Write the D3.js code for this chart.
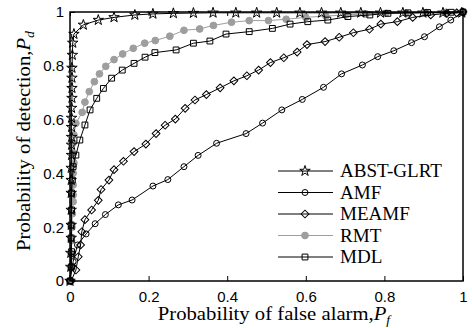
<!DOCTYPE html>
<html>
<head>
<meta charset="utf-8">
<script src="https://cdn.jsdelivr.net/npm/d3@7"></script>
</head>
<body style="margin:0; background:#fff">
<div id="chart"></div>
<script>
// ROC curves
const names = ["ABST-GLRT", "AMF", "MEAMF", "RMT", "MDL"];

const abstPf = [0, 0.002, 0.002, 0.003, 0.003, 0.003, 0.003, 0.003, 0.003, 0.004, 0.004, 0.004, 0.004, 0.004, 0.004, 0.005, 0.005, 0.005, 0.005, 0.006, 0.007,
  0.01, 0.034, 0.072, 0.112, 0.165, 0.211, 0.263, 0.314, 0.364, 0.422, 0.475, 0.526, 0.585, 0.64, 0.689, 0.74, 0.79, 0.847, 0.898, 0.949, 0.997];
const abstPd = [0, 0.052, 0.104, 0.16, 0.208, 0.264, 0.327, 0.375, 0.42, 0.468, 0.506, 0.535, 0.572, 0.606, 0.643, 0.68, 0.717, 0.755, 0.792, 0.84, 0.885,
  0.918, 0.952, 0.97, 0.98, 0.989, 0.993, 0.995, 0.996, 0.997, 0.997, 0.997, 0.997, 0.997, 0.997, 0.997, 0.997, 0.997, 0.997, 0.997, 0.997, 0.997];

const amfPf = [0, 0.008, 0.019, 0.041, 0.064, 0.09, 0.123, 0.158, 0.211, 0.249, 0.29, 0.326, 0.373, 0.448, 0.49, 0.539, 0.591, 0.645, 0.691, 0.744, 0.783, 0.824, 0.869, 0.902, 0.94, 0.969, 1];
const amfPd = [0, 0.072, 0.134, 0.175, 0.213, 0.247, 0.283, 0.301, 0.353, 0.377, 0.425, 0.467, 0.512, 0.548, 0.587, 0.636, 0.675, 0.72, 0.77, 0.803, 0.834, 0.856, 0.886, 0.908, 0.945, 0.97, 1];

const meamfPf = [0.003, 0.015, 0.021, 0.027, 0.03, 0.038, 0.055, 0.072, 0.079, 0.099, 0.112, 0.136, 0.163, 0.193, 0.219, 0.242, 0.268, 0.293, 0.318, 0.347, 0.382, 0.417, 0.45, 0.48, 0.51, 0.544, 0.578, 0.603, 0.649, 0.685, 0.721, 0.762, 0.791, 0.833, 0.872, 0.918, 0.959, 0.984, 1];
const meamfPd = [0, 0.041, 0.09, 0.134, 0.183, 0.228, 0.264, 0.3, 0.34, 0.375, 0.414, 0.445, 0.481, 0.509, 0.548, 0.579, 0.602, 0.642, 0.673, 0.693, 0.718, 0.744, 0.763, 0.784, 0.812, 0.83, 0.851, 0.879, 0.89, 0.906, 0.923, 0.936, 0.955, 0.964, 0.98, 0.989, 0.995, 0.997, 1];

const rmtPf = [0, 0.002, 0.003, 0.004, 0.005, 0.006, 0.008, 0.008, 0.008, 0.008, 0.01, 0.008, 0.008, 0.01, 0.015, 0.031, 0.038, 0.049, 0.062, 0.075, 0.091, 0.112, 0.134, 0.161, 0.19, 0.217, 0.254, 0.29, 0.33, 0.365, 0.411, 0.456, 0.505, 0.55, 0.6, 0.651, 0.702, 0.753, 0.804, 0.855, 0.906, 0.957, 1];
const rmtPd = [0, 0.05, 0.1, 0.15, 0.2, 0.25, 0.295, 0.32, 0.357, 0.401, 0.439, 0.476, 0.513, 0.543, 0.586, 0.627, 0.665, 0.704, 0.741, 0.77, 0.798, 0.823, 0.844, 0.865, 0.884, 0.894, 0.91, 0.932, 0.937, 0.95, 0.962, 0.968, 0.968, 0.973, 0.98, 0.985, 0.989, 0.993, 0.995, 0.996, 0.998, 0.999, 1];

const mdlPf = [0, 0.004, 0.004, 0.003, 0.003, 0.004, 0.004, 0.006, 0.008, 0.015, 0.025, 0.038, 0.051, 0.068, 0.085, 0.106, 0.133, 0.163, 0.191, 0.216, 0.27, 0.314, 0.356, 0.397, 0.456, 0.515, 0.56, 0.605, 0.656, 0.707, 0.763, 0.809, 0.86, 0.91, 0.97, 1];
const mdlPd = [0, 0.053, 0.109, 0.16, 0.208, 0.264, 0.327, 0.375, 0.425, 0.468, 0.524, 0.58, 0.636, 0.679, 0.716, 0.754, 0.784, 0.809, 0.832, 0.849, 0.859, 0.884, 0.892, 0.918, 0.927, 0.939, 0.955, 0.964, 0.97, 0.983, 0.989, 0.995, 0.997, 0.998, 0.999, 1];

const xTicks = [0, 0.2, 0.4, 0.6, 0.8, 1];
const yTicks = [0, 0.2, 0.4, 0.6, 0.8, 1];

const serif = "'Liberation Serif', 'Times New Roman', serif";
const sans = "'Liberation Sans', Arial, sans-serif";

const margin = {top: 12, right: 10, bottom: 47, left: 70};
const width = 473 - margin.left - margin.right;
const height = 328 - margin.top - margin.bottom;

const svg = d3.select("#chart").append("svg")
    .attr("width", 473)
    .attr("height", 328);
const g = svg.append("g")
    .attr("transform", `translate(${margin.left},${margin.top})`);

const x = d3.scaleLinear().domain([0, 1]).range([0, width]);
const y = d3.scaleLinear().domain([0, 1]).range([height, 0]);

// axes, ticks pointing inward
const fmt = d => d === 0 || d === 1 ? String(d) : d.toFixed(1);
g.append("g").attr("transform", `translate(0,${height})`)
    .call(d3.axisBottom(x).tickValues(xTicks).tickFormat(fmt).tickSizeInner(-5).tickSizeOuter(0).tickPadding(10))
    .call(a => a.select(".domain").remove());
g.append("g")
    .call(d3.axisLeft(y).tickValues(yTicks).tickFormat(fmt).tickSizeInner(-5).tickSizeOuter(0).tickPadding(6))
    .call(a => a.select(".domain").remove());
g.append("g")
    .call(d3.axisTop(x).tickValues(xTicks).tickFormat("").tickSizeInner(-4).tickSizeOuter(0))
    .call(a => a.select(".domain").remove());
g.selectAll(".tick line").attr("stroke", "#000");
g.selectAll(".tick text")
    .attr("fill", "#000")
    .attr("font-family", sans)
    .attr("font-size", 15);

const series = [
  {name: names[0], pf: abstPf, pd: abstPd, color: "#000", symbol: d3.symbolStar, size: 34, fill: "none", rot: 0},
  {name: names[1], pf: amfPf, pd: amfPd, color: "#000", symbol: d3.symbolCircle, size: 28, fill: "none", rot: 0},
  {name: names[2], pf: meamfPf, pd: meamfPd, color: "#000", symbol: d3.symbolSquare, size: 30, fill: "none", rot: 45},
  {name: names[3], pf: rmtPf, pd: rmtPd, color: "#9e9e9e", symbol: d3.symbolCircle, size: 36, fill: "#9e9e9e", rot: 0},
  {name: names[4], pf: mdlPf, pd: mdlPd, color: "#000", symbol: d3.symbolSquare, size: 34, fill: "none", rot: 0}
];

const line = d3.line().x(d => x(d[0])).y(d => y(d[1]));

// draw in back-to-front order so the black curves sit above grey
const order = [3, 2, 1, 4, 0];
order.forEach(i => {
  const s = series[i];
  const pts = s.pf.map((v, k) => [v, s.pd[k]]);
  g.append("path")
      .datum(pts)
      .attr("fill", "none")
      .attr("stroke", s.color)
      .attr("stroke-width", 1)
      .attr("d", line);
  g.selectAll(null)
      .data(pts)
      .enter().append("path")
      .attr("d", d3.symbol(s.symbol, s.size))
      .attr("transform", d => `translate(${x(d[0])},${y(d[1])}) rotate(${s.rot})`)
      .attr("fill", s.fill)
      .attr("stroke", s.color)
      .attr("stroke-width", 1);
});

// frame
g.append("rect")
    .attr("width", width)
    .attr("height", height)
    .attr("fill", "none")
    .attr("stroke", "#000")
    .attr("stroke-width", 1.5);

// legend
const legend = svg.append("g").attr("transform", "translate(278,171)");
series.forEach((s, i) => {
  const row = legend.append("g").attr("transform", `translate(0,${i * 21.5})`);
  row.append("line").attr("x1", 0).attr("x2", 55).attr("stroke", s.color).attr("stroke-width", 1);
  row.append("path")
      .attr("d", d3.symbol(s.symbol, s.size))
      .attr("transform", `translate(27,0) rotate(${s.rot})`)
      .attr("fill", s.fill)
      .attr("stroke", s.color);
  row.append("text")
      .attr("font-family", serif)
      .attr("font-size", 18)
      .attr("transform", "translate(62,6) scale(1.06,1)")
      .text(s.name);
});

// axis labels
const xl = svg.append("text")
    .attr("font-family", serif)
    .attr("font-size", 18)
    .attr("text-anchor", "middle")
    .attr("transform", "translate(274,320) scale(1.15,1)");
xl.append("tspan").text("Probability of false alarm,");
xl.append("tspan").attr("font-style", "italic").text("P");
xl.append("tspan").attr("font-style", "italic").attr("font-size", 12).attr("dy", 4).text("f");

const yl = svg.append("text")
    .attr("font-family", serif)
    .attr("font-size", 18)
    .attr("text-anchor", "middle")
    .attr("transform", "translate(30,141) rotate(-90) scale(1.15,1)");
yl.append("tspan").text("Probability of detection,");
yl.append("tspan").attr("font-style", "italic").text("P");
yl.append("tspan").attr("font-style", "italic").attr("font-size", 12).attr("dy", 4).text("d");
</script>
</body>
</html>
